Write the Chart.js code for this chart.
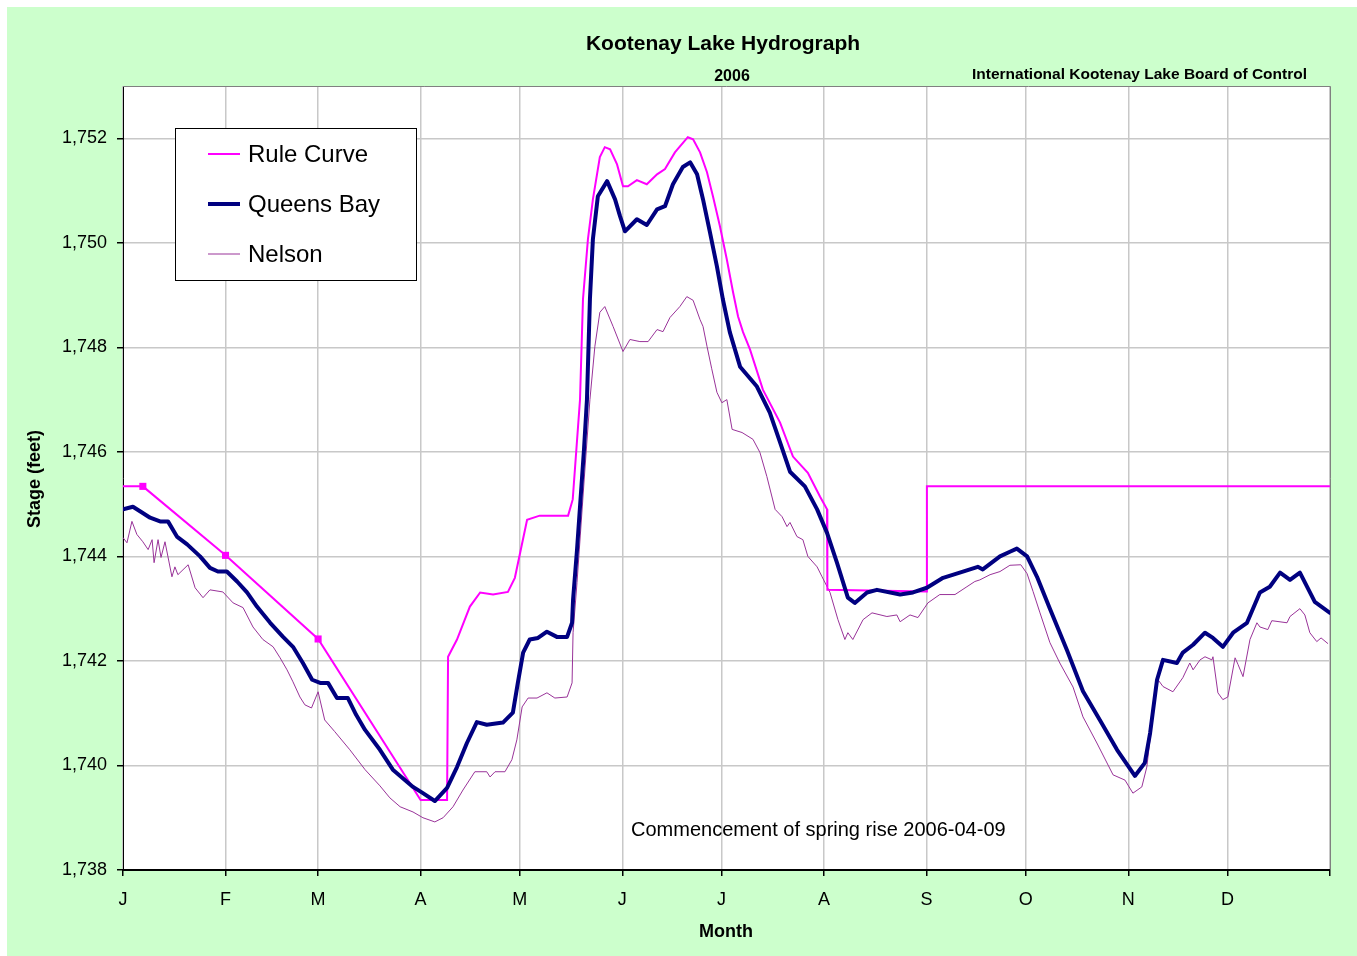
<!DOCTYPE html>
<html>
<head>
<meta charset="utf-8">
<script src="https://cdn.jsdelivr.net/npm/chart.js@4.4.1/dist/chart.umd.min.js"></script>
<style>
  html, body { margin: 0; padding: 0; background: #ffffff; }
  #wrap { width: 1357px; height: 956px; }
</style>
</head>
<body>
<div id="wrap"><canvas id="c" width="1357" height="956"></canvas></div>
<script>
// ---- Data (day of year, 0 = Jan 1) ----
const monthStarts = [0, 31, 59, 90, 120, 151, 181, 212, 243, 273, 304, 334, 365];
const monthLabels = ['J', 'F', 'M', 'A', 'M', 'J', 'J', 'A', 'S', 'O', 'N', 'D', ''];
const yTicks = [1738, 1740, 1742, 1744, 1746, 1748, 1750, 1752];

const ruleDays = [0, 6, 31, 59, 90, 98, 98.3, 101, 104.9, 108, 111.9, 116.4, 118.5, 122.2, 126, 134.6, 136, 138.2, 139.1, 140.6, 142.1, 144.2, 145.7, 147.3, 149.4, 151.2, 152.7, 155.4, 158.4, 161.5, 163.9, 166.9, 170.8, 172.4, 174.5, 176.6, 178.4, 180.5, 182.6, 184.5, 186, 187.5, 189.6, 193.5, 198.7, 202.6, 207.1, 210.8, 212.9, 213.0, 243.0, 243.1, 365];
const ruleStage = [1745.34, 1745.34, 1744.02, 1742.42, 1739.34, 1739.34, 1742.08, 1742.41, 1743.04, 1743.31, 1743.27, 1743.32, 1743.59, 1744.70, 1744.78, 1744.78, 1745.09, 1747.00, 1748.92, 1750.07, 1750.83, 1751.64, 1751.83, 1751.79, 1751.50, 1751.08, 1751.08, 1751.20, 1751.12, 1751.31, 1751.41, 1751.73, 1752.02, 1751.98, 1751.73, 1751.35, 1750.89, 1750.32, 1749.68, 1749.05, 1748.59, 1748.29, 1747.96, 1747.19, 1746.56, 1745.91, 1745.60, 1745.14, 1744.90, 1743.36, 1743.33, 1745.34, 1745.34];
const ruleMarkerDays = [6, 31, 59];

const qbDays = [0, 3, 5.5, 8.2, 11.2, 13.6, 16.3, 19.4, 23.3, 26.3, 28.7, 31.4, 34.5, 37.5, 40.5, 44.5, 48.4, 51.4, 54.4, 57.2, 59.6, 62, 64.7, 68, 70.5, 73.2, 77.7, 81.6, 87.7, 90.7, 94.3, 98, 101, 104, 107, 110, 114.9, 117.9, 119.4, 121, 123, 125.5, 128.2, 131.2, 134.3, 135.8, 136.1, 137.3, 139.4, 140.3, 141.2, 142.1, 143.6, 146.4, 148.8, 150.3, 151.8, 155.4, 158.4, 161.5, 163.9, 166.3, 169.3, 171.5, 173.6, 175.4, 177.5, 179.6, 181.4, 183.5, 186.6, 191.7, 195.6, 198.7, 201.7, 206.2, 209.9, 212.9, 215.9, 219.2, 221.3, 225, 228, 235, 238.9, 243.1, 248, 254, 258.5, 260, 265.2, 268.2, 270.3, 273.4, 276.4, 280.3, 285.5, 290.3, 295.4, 300.6, 306, 309, 310.6, 312.7, 314.5, 318.7, 320.5, 323.6, 327.2, 329.6, 332.6, 335.7, 339.9, 343.8, 346.8, 349.9, 352.9, 355.9, 360.4, 365];
const qbStage = [1744.90, 1744.95, 1744.85, 1744.74, 1744.67, 1744.67, 1744.38, 1744.23, 1744.00, 1743.78, 1743.71, 1743.71, 1743.52, 1743.31, 1743.04, 1742.73, 1742.46, 1742.27, 1741.96, 1741.64, 1741.58, 1741.58, 1741.29, 1741.29, 1740.97, 1740.68, 1740.30, 1739.92, 1739.59, 1739.47, 1739.32, 1739.57, 1739.97, 1740.43, 1740.83, 1740.78, 1740.82, 1741.01, 1741.58, 1742.16, 1742.41, 1742.44, 1742.56, 1742.46, 1742.46, 1742.73, 1743.17, 1744.13, 1746.04, 1747.00, 1748.92, 1750.07, 1750.89, 1751.18, 1750.83, 1750.51, 1750.22, 1750.45, 1750.34, 1750.64, 1750.70, 1751.12, 1751.45, 1751.54, 1751.31, 1750.83, 1750.20, 1749.55, 1748.92, 1748.29, 1747.63, 1747.25, 1746.75, 1746.18, 1745.62, 1745.34, 1744.90, 1744.45, 1743.88, 1743.21, 1743.11, 1743.31, 1743.36, 1743.27, 1743.31, 1743.40, 1743.59, 1743.71, 1743.80, 1743.75, 1744.00, 1744.09, 1744.15, 1744.00, 1743.61, 1743.00, 1742.20, 1741.42, 1740.87, 1740.30, 1739.80, 1740.05, 1740.62, 1741.64, 1742.02, 1741.96, 1742.16, 1742.31, 1742.54, 1742.44, 1742.27, 1742.54, 1742.73, 1743.31, 1743.42, 1743.69, 1743.55, 1743.69, 1743.13, 1742.92];

const nelDays = [0, 1.2, 2.7, 4.2, 6, 7.6, 8.8, 9.4, 10.6, 11.5, 12.7, 14.8, 15.7, 16.6, 19.7, 21.8, 24.2, 26.3, 30.2, 33.3, 36.3, 39.3, 42.3, 45.4, 47.5, 49.6, 51.4, 53.5, 55, 57, 59, 61, 64, 68.6, 73.2, 77.7, 80.7, 83.8, 87.7, 90.7, 94.3, 96.8, 99.8, 102.8, 106.4, 110, 111, 112.5, 115.5, 117.6, 119.1, 120.7, 122.5, 125.2, 128.2, 130.6, 134.3, 135.8, 136.1, 137.3, 139.5, 141.2, 142.7, 144.2, 145.7, 148.2, 151.2, 153.3, 156.3, 158.8, 161.5, 163.3, 165.4, 168.4, 170.5, 172.4, 174.5, 175.4, 176.6, 178, 179.6, 181.1, 182.6, 184.2, 187.2, 190.5, 192.6, 194.7, 197.2, 199.3, 200.8, 201.7, 203.8, 205.6, 207.1, 209.9, 211.4, 213.8, 216.2, 218.3, 219.2, 220.7, 223.8, 226.5, 231, 234, 235, 238, 240.4, 243.4, 247, 251.6, 255.2, 257.6, 259.1, 262.2, 265.2, 268.2, 271.5, 273.4, 275.2, 277.3, 280.3, 283.3, 287.3, 290.3, 294.5, 299.4, 303, 305.4, 308.1, 309.6, 311.5, 313, 314.5, 317.5, 320.5, 322.6, 323.6, 325.7, 327.2, 329.3, 329.6, 331.1, 332.6, 334.1, 336.3, 337.2, 338.7, 340.8, 342.9, 343.8, 346.2, 347.4, 352, 352.9, 355.9, 357.4, 358.9, 361, 362.3, 364.4];
const nelStage = [1744.36, 1744.26, 1744.67, 1744.42, 1744.28, 1744.13, 1744.32, 1743.88, 1744.32, 1743.98, 1744.28, 1743.61, 1743.80, 1743.65, 1743.84, 1743.40, 1743.21, 1743.36, 1743.32, 1743.11, 1743.02, 1742.65, 1742.41, 1742.27, 1742.06, 1741.83, 1741.60, 1741.31, 1741.16, 1741.10, 1741.41, 1740.87, 1740.65, 1740.30, 1739.92, 1739.61, 1739.38, 1739.21, 1739.11, 1739.00, 1738.92, 1739.00, 1739.21, 1739.53, 1739.88, 1739.88, 1739.78, 1739.88, 1739.88, 1740.11, 1740.49, 1741.12, 1741.29, 1741.29, 1741.39, 1741.29, 1741.31, 1741.58, 1742.54, 1743.50, 1745.50, 1747.00, 1748.02, 1748.67, 1748.78, 1748.40, 1747.92, 1748.15, 1748.11, 1748.11, 1748.34, 1748.30, 1748.57, 1748.78, 1748.97, 1748.90, 1748.53, 1748.40, 1748.02, 1747.60, 1747.14, 1746.94, 1747.00, 1746.43, 1746.37, 1746.24, 1745.99, 1745.53, 1744.90, 1744.76, 1744.57, 1744.65, 1744.38, 1744.32, 1744.00, 1743.80, 1743.61, 1743.31, 1742.79, 1742.41, 1742.54, 1742.41, 1742.79, 1742.92, 1742.85, 1742.88, 1742.75, 1742.88, 1742.83, 1743.11, 1743.27, 1743.27, 1743.42, 1743.52, 1743.55, 1743.65, 1743.71, 1743.83, 1743.84, 1743.67, 1743.33, 1742.92, 1742.35, 1741.96, 1741.50, 1740.93, 1740.43, 1739.82, 1739.72, 1739.47, 1739.59, 1739.97, 1741.00, 1741.64, 1741.51, 1741.41, 1741.68, 1741.96, 1741.83, 1742.02, 1742.08, 1742.02, 1742.08, 1741.39, 1741.26, 1741.31, 1742.06, 1741.93, 1741.70, 1742.41, 1742.73, 1742.65, 1742.60, 1742.77, 1742.73, 1742.85, 1743.00, 1742.88, 1742.54, 1742.37, 1742.44, 1742.33];

const seriesNames = ['Rule Curve', 'Queens Bay', 'Nelson'];
const titleText = 'Kootenay Lake Hydrograph';
const subtitleText = '2006';
const sourceText = 'International Kootenay Lake Board of Control';
const noteText = 'Commencement of spring rise 2006-04-09';
const xTitle = 'Month';
const yTitle = 'Stage (feet)';

// ---- Styles ----
const FONT = "'Liberation Sans', Arial, sans-serif";
const colors = { rule: '#FF00FF', qb: '#000080', nel: '#993399' };
const widths = { rule: 2, qb: 4, nel: 1 };

const toXY = (xs, ys) => xs.map((x, i) => ({ x: x, y: ys[i] }));

const decor = {
  id: 'decor',
  beforeDraw(chart) {
    const ctx = chart.ctx, a = chart.chartArea;
    ctx.save();
    ctx.fillStyle = '#ffffff';
    ctx.fillRect(0, 0, chart.width, chart.height);
    ctx.fillStyle = '#CCFFCC';
    ctx.fillRect(7, 7, chart.width - 7, chart.height - 7);
    ctx.fillStyle = '#ffffff';
    ctx.fillRect(a.left, a.top, a.right - a.left, a.bottom - a.top);
    ctx.restore();
  },
  afterDraw(chart) {
    const ctx = chart.ctx, a = chart.chartArea;
    ctx.save();
    ctx.strokeStyle = '#808080';
    ctx.lineWidth = 1;
    ctx.beginPath();
    ctx.moveTo(a.left, a.top + 0.5);
    ctx.lineTo(a.right + 0.5, a.top + 0.5);
    ctx.lineTo(a.right + 0.5, a.bottom);
    ctx.stroke();

    ctx.fillStyle = '#000000';
    ctx.textBaseline = 'middle';
    ctx.textAlign = 'center';
    ctx.font = 'bold 21px ' + FONT;
    ctx.fillText(titleText, 723, 44);
    ctx.font = 'bold 16px ' + FONT;
    ctx.fillText(subtitleText, 732, 77);
    ctx.textAlign = 'right';
    ctx.font = 'bold 15.5px ' + FONT;
    ctx.fillText(sourceText, 1307, 75);

    ctx.textAlign = 'center';
    ctx.font = 'bold 18px ' + FONT;
    ctx.fillText(xTitle, 726, 932);
    ctx.save();
    ctx.translate(35, 479);
    ctx.rotate(-Math.PI / 2);
    ctx.fillText(yTitle, 0, 0);
    ctx.restore();

    ctx.textAlign = 'left';
    ctx.font = '20px ' + FONT;
    ctx.fillText(noteText, 631, 830);

    // legend
    ctx.fillStyle = '#ffffff';
    ctx.fillRect(175, 128, 241, 152);
    ctx.strokeStyle = '#000000';
    ctx.lineWidth = 1;
    ctx.strokeRect(175.5, 128.5, 241, 152);
    const items = [
      [seriesNames[0], colors.rule, widths.rule],
      [seriesNames[1], colors.qb, widths.qb],
      [seriesNames[2], colors.nel, widths.nel]
    ];
    items.forEach((it, i) => {
      const y = 154 + i * 50;
      ctx.strokeStyle = it[1];
      ctx.lineWidth = it[2];
      ctx.beginPath();
      ctx.moveTo(208, y);
      ctx.lineTo(240, y);
      ctx.stroke();
      ctx.fillStyle = '#000000';
      ctx.font = '24px ' + FONT;
      ctx.textAlign = 'left';
      ctx.fillText(it[0], 248, y + 1);
    });
    ctx.restore();
  }
};

new Chart(document.getElementById('c'), {
  type: 'line',
  data: {
    datasets: [
      {
        label: seriesNames[1],
        data: toXY(qbDays, qbStage),
        borderColor: colors.qb,
        borderWidth: widths.qb,
        borderJoinStyle: 'round',
        borderCapStyle: 'round',
        pointRadius: 0,
        order: 0
      },
      {
        label: seriesNames[0],
        data: toXY(ruleDays, ruleStage),
        borderColor: colors.rule,
        backgroundColor: colors.rule,
        borderWidth: widths.rule,
        pointStyle: 'rect',
        pointRadius: (c) => (c.raw && ruleMarkerDays.includes(c.raw.x)) ? 5 : 0,
        pointBorderWidth: 0,
        order: 1
      },
      {
        label: seriesNames[2],
        data: toXY(nelDays, nelStage),
        borderColor: colors.nel,
        borderWidth: widths.nel,
        pointRadius: 0,
        order: 2
      }
    ]
  },
  options: {
    responsive: false,
    animation: false,
    layout: { padding: { left: 0, right: 27, top: 86, bottom: 26 } },
    plugins: { legend: { display: false }, tooltip: { enabled: false } },
    elements: { line: { tension: 0 } },
    scales: {
      x: {
        type: 'linear',
        min: 0,
        max: 365,
        afterBuildTicks: (s) => { s.ticks = monthStarts.map(v => ({ value: v })); },
        afterFit: (s) => { s.height = 60; },
        ticks: {
          autoSkip: false,
          maxRotation: 0,
          padding: 13,
          color: '#000000',
          font: { family: FONT, size: 18 },
          callback: (v, i) => monthLabels[i]
        },
        grid: { color: '#c8c8c8', lineWidth: 1.5, tickColor: '#000000', tickLength: 6 },
        border: { color: '#000000', width: 2 }
      },
      y: {
        type: 'linear',
        min: 1738,
        max: 1753,
        afterBuildTicks: (s) => { s.ticks = yTicks.map(v => ({ value: v })); },
        afterFit: (s) => { s.width = 123; },
        ticks: {
          padding: 10,
          color: '#000000',
          font: { family: FONT, size: 18 },
          callback: (v) => v.toLocaleString('en-US')
        },
        grid: { color: '#c8c8c8', lineWidth: 1.5, tickColor: '#000000', tickLength: 6 },
        border: { color: '#000000', width: 1 }
      }
    }
  },
  plugins: [decor]
});
</script>
</body>
</html>
